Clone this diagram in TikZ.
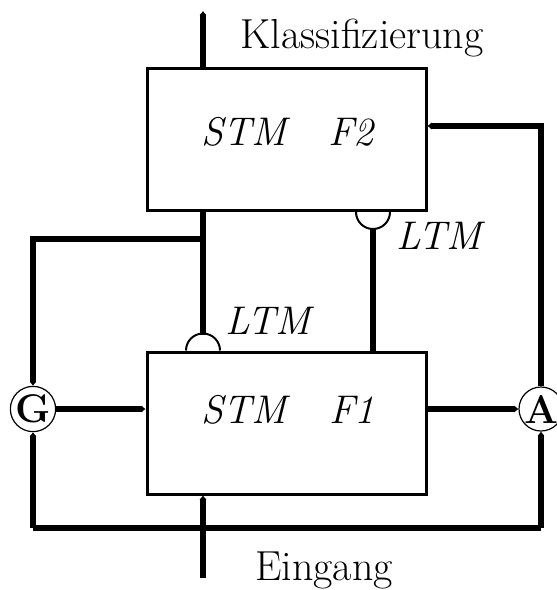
\documentclass[tikz,border=0pt]{standalone}
\usetikzlibrary{arrows.meta}
\begin{document}
\begin{tikzpicture}[x=0.5pt,y=-0.5pt,
  every node/.style={font=\fontsize{20}{24}\selectfont},
  boxst/.style={draw,line width=1.5pt,inner sep=0pt},
  thk/.style={line width=3pt},
  arr/.style={thk,-{Latex[length=2pt,width=3.6pt]}},
  circ/.style={draw,circle,line width=0.6pt,minimum size=22pt,inner sep=0pt,font=\fontsize{20}{22}\selectfont\bfseries}]
\useasboundingbox (0,0) rectangle (557,590);
% boxes
\node[boxst,minimum width=139.5pt,minimum height=71pt] (F2) at (286.5,139.5) {};
\node[boxst,minimum width=139.5pt,minimum height=71pt] (F1) at (286.5,423) {};
\node at (246,132) {\textit{STM}};
\node at (352,132) {\textit{F2}};
\node at (246,410) {\textit{STM}};
\node at (352,410) {\textit{F1}};
% circles
\node[circ,fill=white] (G) at (33,409) {G};
\node[circ,fill=white] (A) at (541,409) {A};
% labels
\node[font=\fontsize{21}{24}\selectfont] (kl) at (362,38) {Klassifizierung};
\node[font=\fontsize{21}{24}\selectfont] (ein) at (324,570) {Eingang};
\node (ltm2) at (441,236) {\textit{LTM}};
\node (ltm1) at (270,321) {\textit{LTM}};
% coordinates
\coordinate (top) at (203,11);
\coordinate (bot) at (203,578);
\coordinate (lu) at (203,239);
\coordinate (s1) at (203,335);
\coordinate (s2) at (373,228);
\coordinate (bl) at (33,528);
\coordinate (br) at (541,528);
\coordinate (ll) at (33,239);
\coordinate (ar) at (541,126);
% top output
\draw[arr] (F2.north -| top) -- (top);
% bottom input
\draw[arr] (bot) -- (F1.south -| bot);
% F2 to F1 LTM
\draw[thk] (F2.south -| lu) -- (s1);
\draw[line width=1pt] (s1 |- F1.north) ++(-17,0) arc[start angle=180,end angle=0,radius=8.5pt];
% F1 to F2 LTM
\draw[thk] (s2) -- (F1.north -| s2);
\draw[line width=1pt] (s2 |- F2.south) ++(-17,0) arc[start angle=180,end angle=360,radius=8.5pt];
% left loop to G
\draw[arr] (lu) -- (ll) -- (G);
\draw[arr] (G) -- (G -| F1.west);
\draw[arr] (F1.east |- A) -- (A);
\draw[arr] (A) -- (ar) -- (ar -| F2.east);
% bottom loop
\draw[arr] (bl) -- (G);
\draw[thk] (bl) -- (br);
\draw[arr] (br) -- (A);
\end{tikzpicture}
\end{document}
